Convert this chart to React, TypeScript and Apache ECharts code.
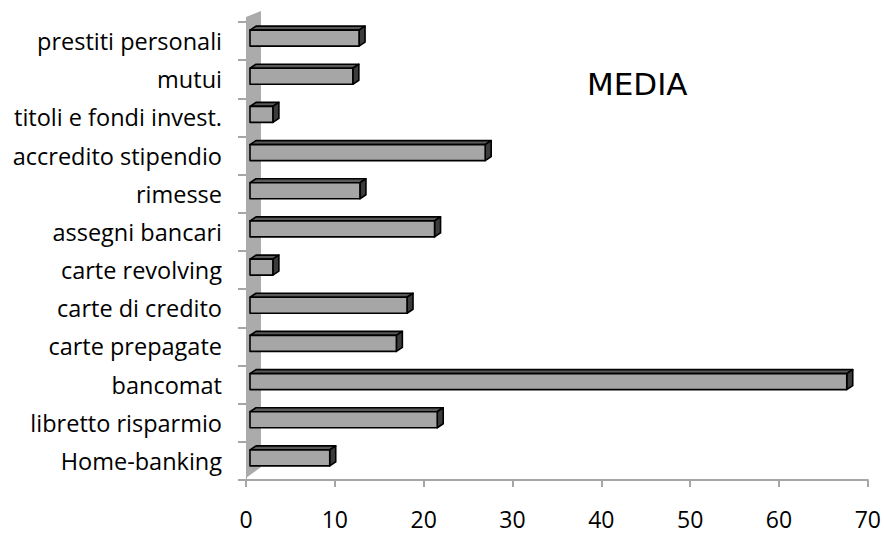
import React, { useEffect, useRef } from "react";
import * as echarts from "echarts";

const categories = [
  "Home-banking",
  "libretto risparmio",
  "bancomat",
  "carte prepagate",
  "carte di credito",
  "carte revolving",
  "assegni bancari",
  "rimesse",
  "accredito stipendio",
  "titoli e fondi invest.",
  "mutui",
  "prestiti personali",
];
const values = [9.2, 21.3, 67.4, 16.7, 17.9, 2.8, 21.0, 12.6, 26.7, 2.8, 11.8, 12.5];
const xTicks = { min: 0, max: 70, interval: 10 };
const titleText = "MEDIA";

export default function App() {
  const ref = useRef<HTMLDivElement>(null);
  useEffect(() => {
    const chart = echarts.init(ref.current!, undefined, { renderer: "svg" });
    const renderItem = (params: any, api: any) => {
      const v = api.value(0);
      const c = api.value(1);
      const end = api.coord([v, c]);
      const base = api.coord([0, c]);
      const x0 = base[0] + 4;
      const x1 = end[0] + 2;
      const cy = end[1];
      const yT = cy - 11;
      const yB = cy + 5;
      const dx = 6;
      const dy = 4;
      const stroke = { stroke: "#000", lineWidth: 1.6, lineJoin: "round" };
      return {
        type: "group",
        children: [
          {
            type: "polygon",
            shape: { points: [[x0, yT], [x0 + dx, yT - dy], [x1 + dx, yT - dy], [x1, yT]] },
            style: { fill: "#5a5a5a", ...stroke },
          },
          {
            type: "polygon",
            shape: { points: [[x1, yT], [x1 + dx, yT - dy], [x1 + dx, yB - dy], [x1, yB]] },
            style: { fill: "#3c3c3c", ...stroke },
          },
          {
            type: "rect",
            shape: { x: x0, y: yT, width: x1 - x0, height: yB - yT },
            style: { fill: "#a6a6a6", ...stroke },
          },
        ],
      };
    };
    chart.setOption({
      animation: false,
      grid: { left: 246, right: 16, top: 22, bottom: 53, containLabel: false },
      xAxis: {
        type: "value",
        min: xTicks.min,
        max: xTicks.max,
        interval: xTicks.interval,
        splitLine: { show: false },
        axisLine: { show: true, lineStyle: { color: "#a6a6a6", width: 2 } },
        axisTick: { show: true, length: 7, lineStyle: { color: "#a6a6a6", width: 2 } },
        axisLabel: { color: "#000", fontSize: 23, fontFamily: "Open Sans", margin: 27 },
      },
      yAxis: {
        type: "category",
        data: categories,
        axisLine: { show: true, lineStyle: { color: "#a6a6a6", width: 1 } },
        axisTick: { show: true, length: 8, lineStyle: { color: "#a6a6a6", width: 2 } },
        axisLabel: { color: "#000", fontSize: 23.5, fontFamily: "Open Sans", margin: 24 },
      },
      graphic: [
        {
          type: "polygon",
          z: 1,
          shape: { points: [[246, 17], [261, 11], [261, 467], [246, 478]] },
          style: { fill: "#ababab" },
        },
        {
          type: "text",
          left: 587,
          top: 68,
          style: { text: titleText, fontSize: 31, fontFamily: "DejaVu Sans", fill: "#000" },
        },
      ],
      series: [
        {
          type: "custom",
          z: 3,
          renderItem,
          encode: { x: 0, y: 1 },
          data: values.map((v, i) => [v, i]),
        },
      ],
    });
    return () => chart.dispose();
  }, []);
  return (
    <div
      ref={ref}
      style={{ position: "fixed", left: 0, top: 0, width: 884, height: 533, background: "#fff" }}
    />
  );
}
